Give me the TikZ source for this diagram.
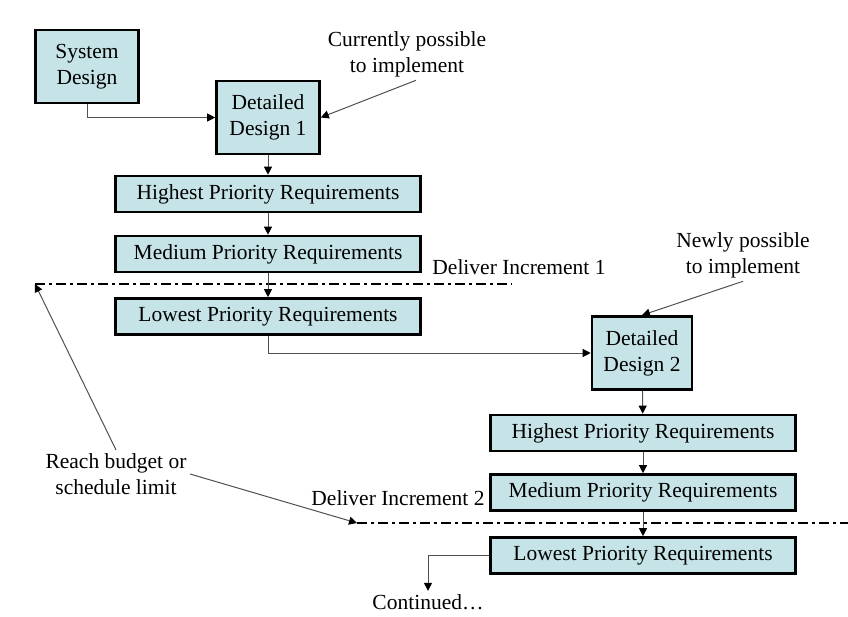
\documentclass[tikz,border=0pt]{standalone}
\usepackage{fontspec}
\setmainfont{Liberation Serif}
\usetikzlibrary{arrows.meta,calc}
\definecolor{boxfill}{RGB}{198,228,231}
\definecolor{linegray}{RGB}{80,80,80}
\begin{document}
\begin{tikzpicture}[x=1pt, y=-1pt,
    every node/.style={font=\fontsize{21.5}{26}\selectfont, align=center},
    box/.style={draw, line width=2.6pt, fill=boxfill, inner sep=0pt},
    design/.style={box, minimum width=103pt, minimum height=73pt},
    req/.style={box, minimum width=305pt, minimum height=36pt},
    conn/.style={draw=linegray, line width=1pt, -{Triangle[length=8pt,width=8pt,black]}},
    deliver/.style={line width=2.2pt, dash pattern=on 10pt off 4pt on 3pt off 4pt}]
    \useasboundingbox (0,0) rectangle (848,617);

    % First increment
    \node[design] (sys) at (87,66.5) {System\\Design};
    \node[design] (dd1) at (268,117.5) {Detailed\\Design 1};
    \node[req] (hp1) at (268,194) {Highest Priority Requirements};
    \node[req] (mp1) at (268,254) {Medium Priority Requirements};
    \node[req] (lp1) at (268,316.5) {Lowest Priority Requirements};

    % Second increment
    \node[design, minimum width=100pt] (dd2) at (642,353) {Detailed\\Design 2};
    \node[req] (hp2) at (643,433) {Highest Priority Requirements};
    \node[req] (mp2) at (643,492.5) {Medium Priority Requirements};
    \node[req] (lp2) at (643,555.5) {Lowest Priority Requirements};

    % Labels
    \node (cur) at (407,54) {Currently possible\\to implement};
    \node (new) at (743,255) {Newly possible\\to implement};
    \node (del1) at (519,267) {Deliver Increment 1};
    \node (del2) at (398,498) {Deliver Increment 2};
    \node (reach) at (116,474) {Reach budget or\\schedule limit};
    \node (cont) at (428,602) {Continued\ldots};

    % Delivery lines
    \coordinate (d1a) at (35,284);
    \coordinate (d1b) at (512,284);
    \coordinate (d2a) at (357,523);
    \coordinate (d2b) at (848,523);
    \draw[deliver] (d1a) -- (d1b);
    \draw[deliver] (d2a) -- (d2b);

    % Flow
    \draw[conn] (sys.south) |- (dd1.west);
    \draw[conn] (dd1) -- (hp1);
    \draw[conn] (hp1) -- (mp1);
    \draw[conn] (mp1) -- (lp1);
    \draw[conn] (lp1.south) |- (dd2.west);
    \draw[conn] (dd2) -- (hp2);
    \draw[conn] (hp2) -- (mp2);
    \draw[conn] (mp2) -- (lp2);
    \draw[conn] (lp2.west) -| (cont.north);

    % Annotations
    \draw[conn] ($(cur.south)+(9,0)$) -- (dd1.east);
    \draw[conn] (new.south) -- (dd2.north);
    \draw[conn] (reach.north) -- (d1a);
    \draw[conn] (reach.east) -- (d2a);
\end{tikzpicture}
\end{document}
